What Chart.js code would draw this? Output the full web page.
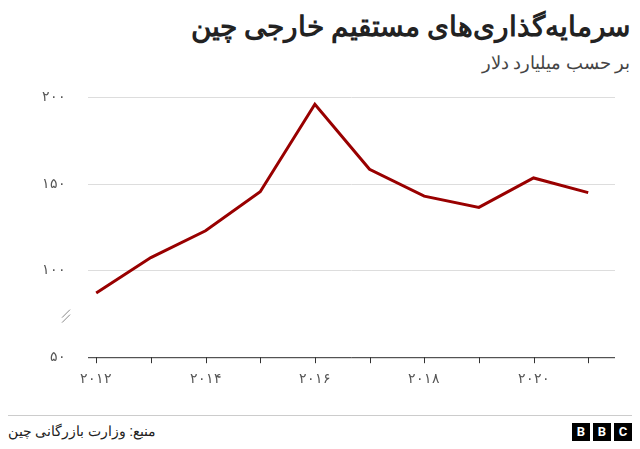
<!DOCTYPE html>
<html><head><meta charset="utf-8">
<script src="https://cdn.jsdelivr.net/npm/chart.js@4"></script>
<style>
body{margin:0;width:640px;height:449px;background:#fff;font-family:Roboto,"Noto Sans",sans-serif;position:relative;overflow:hidden}
#t{position:absolute;right:10px;top:10px;font-size:27.8px;font-weight:bold;color:#222;direction:rtl}
#s{position:absolute;right:10px;top:52px;font-size:18px;color:#444;direction:rtl}
#c{position:absolute;left:0;top:67px;width:640px;height:327px}
#hr{position:absolute;left:8px;right:8px;top:415px;border-top:1px solid #ccc}
#src{position:absolute;left:8px;top:423px;font-size:14px;color:#222;direction:rtl}
#bbc{position:absolute;right:8px;top:423px;display:flex;gap:3px}
#bbc span{background:#000;color:#fff;font-weight:bold;font-size:13px;width:18px;height:18px;line-height:18px;text-align:center}
</style></head><body>
<div id="t">سرمایه‌گذاری‌های مستقیم خارجی چین</div>
<div id="s">بر حسب میلیارد دلار</div>
<div id="c"><canvas id="cv"></canvas></div>
<div id="hr"></div>
<div id="src">منبع: وزارت بازرگانی چین</div>
<div id="bbc"><span>B</span><span>B</span><span>C</span></div>
<script>
const years=[2012,2013,2014,2015,2016,2017,2018,2019,2020,2021];
const values=[87,107.5,123,145.5,196,158.5,143,136.5,153.5,145];
const yTicks=[50,100,150,200];
const fa=n=>String(n).replace(/\d/g,d=>'۰۱۲۳۴۵۶۷۸۹'[d]);
const brk={id:'brk',afterDraw(ch){const c=ch.ctx,x=ch.scales.x.left-22,y=ch.scales.y.getPixelForValue(74);c.save();c.strokeStyle='#888';c.lineWidth=1;c.beginPath();c.moveTo(x-4,y+2);c.lineTo(x+4,y-6);c.moveTo(x-4,y+7);c.lineTo(x+4,y-1);c.stroke();c.restore();}};
new Chart(document.getElementById('cv'),{type:'line',
data:{datasets:[{data:years.map((y,i)=>({x:y,y:values[i]})),borderColor:'#990000',borderWidth:3,pointRadius:0,tension:0}]},
options:{responsive:true,maintainAspectRatio:false,animation:false,
layout:{padding:{left:20,right:25,top:0,bottom:0}},
plugins:{legend:{display:false},tooltip:{enabled:false}},
scales:{x:{type:'linear',min:2011.85,max:2021.49,
 afterBuildTicks:a=>{a.ticks=[2012,2014,2016,2018,2020].map(v=>({value:v}))},
 grid:{display:false,drawOnChartArea:false},border:{display:false},
 ticks:{color:'#555',font:{size:14},callback:v=>fa(v),padding:6}},
y:{min:50,max:200,afterBuildTicks:a=>{a.ticks=yTicks.map(v=>({value:v}))},
 grid:{color:'#ddd',drawTicks:false},border:{display:false},
 ticks:{color:'#555',font:{size:14},callback:v=>fa(v),padding:22}}}},
plugins:[brk,{id:'xt',afterDraw(ch){const c=ch.ctx,s=ch.scales.x,b=ch.chartArea.bottom;c.save();c.strokeStyle='#333';c.lineWidth=1;c.beginPath();c.moveTo(ch.chartArea.left,b+0.5);c.lineTo(ch.chartArea.right,b+0.5);years.forEach(y=>{const x=Math.round(s.getPixelForValue(y))+0.5;c.moveTo(x,b);c.lineTo(x,b+6);});c.stroke();c.restore();}}]});
</script></body></html>
